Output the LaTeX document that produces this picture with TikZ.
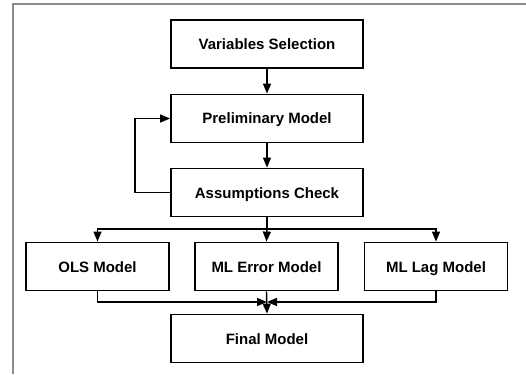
\documentclass[tikz,border=0pt]{standalone}
\usepackage{fontspec}
\setmainfont{Liberation Sans}
\usetikzlibrary{arrows.meta}
\definecolor{framegray}{HTML}{8C8C8C}
\tikzset{
  stage/.style={draw, line width=1.8pt, minimum width=192pt, minimum height=48pt,
                font=\fontsize{15}{18}\selectfont\bfseries, inner sep=0pt,
                text height=11pt, text depth=0pt},
  model/.style={stage, minimum width=143pt},
  flow/.style={line width=1.4pt, -{Triangle[length=10pt, width=8pt]}},
  link/.style={line width=1.4pt},
}

\begin{document}
\begin{tikzpicture}[x=1pt, y=-1pt]
    \useasboundingbox (0,0) rectangle (526,374);
    \draw[framegray, line width=1.2pt] (13,374) -- (13,4) -- (526,4);
    % stages
    \node[stage] (vars) at (267, 44) {Variables Selection};
    \node[stage] (prelim) at (267, 118.5) {Preliminary Model};
    \node[stage] (check) at (267, 192.5) {Assumptions Check};
    \node[model] (ols) at (97.5, 266.5) {OLS Model};
    \node[model] (err) at (266.5, 266.5) {ML Error Model};
    \node[model] (lag) at (436, 266.5) {ML Lag Model};
    \node[stage] (final) at (267, 338.5) {Final Model};
    \coordinate (bus) at (267, 229);
    \coordinate (join) at (267, 302);
    % connectors
    \draw[flow] (vars) -- (prelim);
    \draw[flow] (prelim) -- (check);
    \draw[flow] (check.west) -- ++(-35,0) |- (prelim.west);
    \draw[link] (check.south) -- (bus);
    \draw[flow] (bus) -| (ols.north);
    \draw[flow] (bus) -- (err.north);
    \draw[flow] (bus) -| (lag.north);
    \draw[flow] (ols.south) |- (join);
    \draw[flow] (lag.south) |- (join);
    \draw[flow] (err.south) -- (final.north);
  \end{tikzpicture}
\end{document}
